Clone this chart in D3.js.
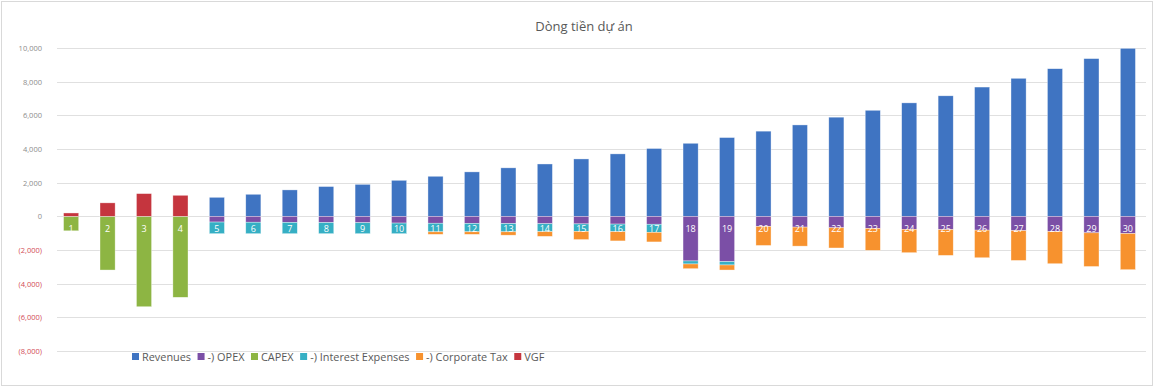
<!DOCTYPE html>
<html>
<head>
<meta charset="utf-8">
<script src="https://cdn.jsdelivr.net/npm/d3@7"></script>
<style>
  html, body { margin: 0; padding: 0; background: #fff; }
  svg { display: block; font-family: "Open Sans", "Liberation Sans", sans-serif; }
</style>
</head>
<body>
<svg id="chart" width="1155" height="389"></svg>
<script>
// Project cash flow by year (1..30)
const years = d3.range(1, 31).map(String);

const revenues = [0, 0, 0, 0, 1130, 1310, 1570, 1770, 1900, 2140, 2380, 2640, 2880, 3110, 3410,
  3710, 4030, 4340, 4680, 5060, 5430, 5890, 6300, 6740, 7160, 7680, 8200, 8770, 9370, 9980];
const opex = [0, 0, 0, 0, -340, -350, -360, -370, -380, -400, -410, -420, -430, -440, -450,
  -460, -470, -2650, -2690, -600, -640, -680, -720, -770, -790, -820, -850, -900, -980, -1020];
const capex = [-860, -3190, -5370, -4810, 0, 0, 0, 0, 0, 0, 0, 0, 0, 0, 0,
  0, 0, 0, 0, 0, 0, 0, 0, 0, 0, 0, 0, 0, 0, 0];
const interest = [0, 0, 0, 0, -690, -680, -670, -660, -650, -630, -510, -500, -490, -470, -440,
  -450, -480, -180, -200, 0, 0, 0, 0, 0, 0, 0, 0, 0, 0, 0];
const corporateTax = [0, 0, 0, 0, 0, 0, 0, 0, 0, 0, -150, -150, -200, -280, -490,
  -550, -570, -280, -300, -1130, -1130, -1200, -1300, -1390, -1530, -1640, -1770, -1915, -2000, -2150];
const vgf = [200, 800, 1350, 1250, 0, 0, 0, 0, 0, 0, 0, 0, 0, 0, 0,
  0, 0, 0, 0, 0, 0, 0, 0, 0, 0, 0, 0, 0, 0, 0];

const seriesNames = ["Revenues", "-) OPEX", "CAPEX", "-) Interest Expenses", "-) Corporate Tax", "VGF"];
const seriesValues = [revenues, opex, capex, interest, corporateTax, vgf];
const seriesColors = ["#3F74C2", "#7B4FA6", "#8DB543", "#36AFC4", "#F7922E", "#C5353E"];

const yTicks = [-8000, -6000, -4000, -2000, 0, 2000, 4000, 6000, 8000, 10000];
const chartTitle = "Dòng tiền dự án";

// Rows for d3.stack
const rows = years.map((yr, i) => {
  const r = { year: yr };
  seriesNames.forEach((n, k) => { r[n] = seriesValues[k][i]; });
  return r;
});

const svg = d3.select("#chart");
const W = 1155, H = 389;

// Chart frame
svg.append("rect")
  .attr("x", 1.5).attr("y", 1.5).attr("width", W - 4).attr("height", H - 5)
  .attr("fill", "#fff").attr("stroke", "#d9d9d9").attr("stroke-width", 1);

const x = d3.scaleBand().domain(years).range([53, 1146]).paddingInner(0.585).paddingOuter(0.29);
const y = d3.scaleLinear().domain([-8000, 10000]).range([351, 48]);

// Title
svg.append("text")
  .attr("x", 584).attr("y", 31)
  .attr("text-anchor", "middle")
  .attr("font-size", 13)
  .attr("fill", "#595959")
  .text(chartTitle);

// Gridlines
svg.append("g")
  .selectAll("line")
  .data(yTicks)
  .join("line")
  .attr("x1", 57).attr("x2", 1146)
  .attr("y1", d => Math.round(y(d)) + 0.5)
  .attr("y2", d => Math.round(y(d)) + 0.5)
  .attr("stroke", "#e0e0e0").attr("stroke-width", 1);

// Y axis labels (accounting format: negatives in parentheses, red)
const fmt = d3.format(",");
const yAxis = d3.axisLeft(y)
  .tickValues(yTicks)
  .tickSize(0)
  .tickPadding(0)
  .tickFormat(d => d < 0 ? "(" + fmt(-d) + ")" : fmt(d));
const yg = svg.append("g").attr("transform", "translate(42,0)").call(yAxis);
yg.select(".domain").remove();
yg.selectAll("text")
  .attr("font-family", "\"Open Sans\", sans-serif")
  .attr("font-size", 7.5)
  .attr("fill", d => d < 0 ? "#D24B55" : "#8C8C8C");

// Stacked bars (diverging: positives above zero, negatives below)
const stack = d3.stack().keys(seriesNames).offset(d3.stackOffsetDiverging);
const stacked = stack(rows);

const layers = svg.append("g")
  .selectAll("g")
  .data(stacked)
  .join("g")
  .attr("fill", (d, i) => seriesColors[i]);

layers.selectAll("rect")
  .data(d => d.filter(s => s[1] - s[0] !== 0))
  .join("rect")
  .attr("x", d => x(d.data.year))
  .attr("width", x.bandwidth())
  .attr("y", d => y(Math.max(d[0], d[1])))
  .attr("height", d => Math.abs(y(d[0]) - y(d[1])))
  .attr("stroke", "#ffffff")
  .attr("stroke-opacity", 0.6)
  .attr("stroke-width", 0.6);

// Year labels inside each bar, just below zero
svg.append("g")
  .selectAll("text")
  .data(years)
  .join("text")
  .attr("x", d => x(d) + x.bandwidth() / 2)
  .attr("y", y(0) + 15.3)
  .attr("text-anchor", "middle")
  .attr("font-size", 9)
  .attr("fill", "#ffffff")
  .text(d => d);

// Legend
const legend = svg.append("g").attr("transform", "translate(132,357)");
let lx = 0;
seriesNames.forEach((n, i) => {
  const g = legend.append("g").attr("transform", `translate(${lx},0)`);
  g.append("rect")
    .attr("x", 0).attr("y", -4).attr("width", 7).attr("height", 7)
    .attr("fill", seriesColors[i]);
  const t = g.append("text")
    .attr("x", 10).attr("y", 3.8)
    .attr("font-size", 10.9)
    .attr("fill", "#595959")
    .text(n);
  lx += 10 + t.node().getComputedTextLength() + 6.5;
});
</script>
</body>
</html>
